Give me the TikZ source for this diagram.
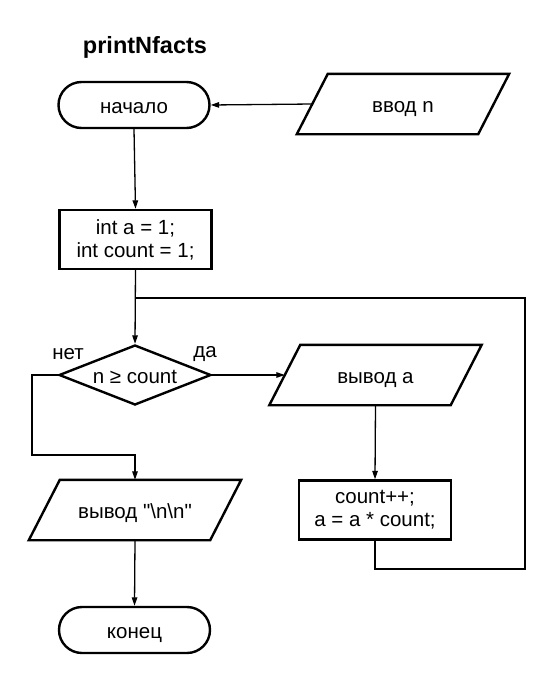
\documentclass[tikz,border=0pt]{standalone}
\usepackage{fontspec}
\setmainfont{Liberation Sans}
\newfontfamily\plainsans{Liberation Sans}
\usetikzlibrary{shapes.geometric,arrows.meta}
\newcommand{\ioshape}[1]{\draw[ioline] ([xshift=31pt]#1.north west) -- (#1.north east)
  -- ([xshift=-31pt]#1.south east) -- (#1.south west) -- cycle;}
\begin{document}
\begin{tikzpicture}[x=1pt,y=-1pt,
  txt/.style={font=\plainsans\fontsize{20.5}{23}\selectfont},
  base/.style={draw,line width=2.4pt,txt,align=center,inner sep=0pt},
  oneline/.style={text height=17pt,text depth=1pt},
  term/.style={base,oneline,rounded corners=23pt,minimum width=151pt,minimum height=46pt},
  proc/.style={base,rectangle,minimum width=152pt,minimum height=59pt},
  dec/.style={base,oneline,diamond,aspect=2.5,minimum width=152pt,minimum height=60pt},
  io/.style={txt,oneline,inner sep=0pt,rectangle,minimum width=212pt,minimum height=60pt},
  ioline/.style={line width=2.4pt,line join=miter},
  conn/.style={line width=1.3pt},
  arr/.style={conn,-{Triangle[length=8.5pt,width=5.5pt]}},
  lbl/.style={txt,inner sep=0pt}
]
\useasboundingbox (0,0) rectangle (555,683);
\node[font=\plainsans\fontsize{23.5}{27}\selectfont\bfseries,inner sep=0pt] (title) at (145,47) {printNfacts};
\node[term] (start) at (134,105) {начало};
\node[io] (in) at (403,104) {ввод n};
\node[proc] (init) at (135.5,239.5) {int a = 1;\\ int count = 1;};
\node[dec] (cond) at (135,375) {n ≥ count};
\node[io] (outa) at (375.5,375) {вывод a};
\node[proc] (cnt) at (375,510) {count++;\\ a = a * count;};
\node[io] (outn) at (135,510) {вывод "\textbackslash n\textbackslash n"};
\node[term] (stop) at (134.5,630) {конец};
\node[lbl] (no) at (68,354) {нет};
\node[lbl] (yes) at (205,354) {да};
\ioshape{in}
\ioshape{outa}
\ioshape{outn}
\coordinate (l1) at (525,569);
\coordinate (l2) at (525,298);
\coordinate (n1) at (32,455);
\draw[arr] ([xshift=15.5pt]in.west) -- (start.east);
\draw[arr] (start.south) -- (init.north);
\draw[arr] (init.south) -- (cond.north);
\draw[arr] (cond.east) -- ([xshift=15.5pt]outa.west);
\draw[arr] (outa.south) -- (cnt.north);
\draw[conn] (cnt.south) |- (l1) -- (l2) -- (l2 -| init.south);
\draw[arr] (cond.west) -| (n1) -- (n1 -| outn.north) -- (outn.north);
\draw[arr] (outn.south) -- (stop.north);
\end{tikzpicture}
\end{document}
